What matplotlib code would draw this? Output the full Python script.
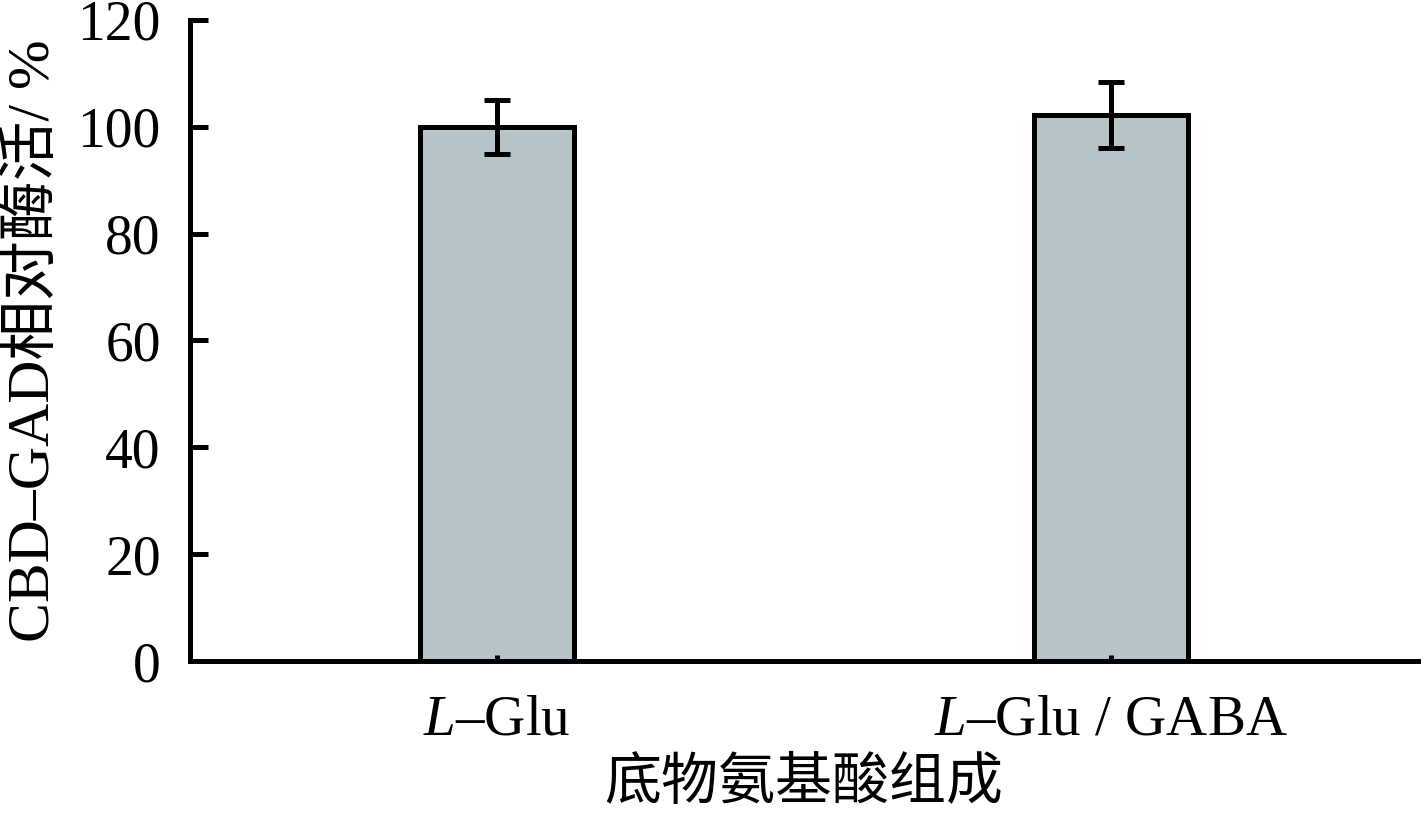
import matplotlib
matplotlib.use("Agg")
import matplotlib.pyplot as plt
import numpy as np

categories = [r"$L$–Glu", r"$L$–Glu / GABA"]
activity = [100.0, 102.2]
errors = [5.1, 6.2]
yticks = [0, 20, 40, 60, 80, 100, 120]

plt.rcParams["mathtext.fontset"] = "custom"
plt.rcParams["mathtext.rm"] = "Liberation Serif"
plt.rcParams["mathtext.it"] = "Liberation Serif:italic"
plt.rcParams["font.family"] = ["Liberation Serif", "Noto Sans CJK SC"]

fig = plt.figure(figsize=(14.22, 8.19), dpi=100)
ax = fig.add_axes([0.1336, 0.1929, 0.8636, 0.7827])

x = np.arange(len(categories))
ax.bar(x, activity, width=0.25, color="#b7c4c7", edgecolor="black", linewidth=3.6,
       yerr=errors, capsize=9.5, error_kw={"elinewidth": 3.6, "capthick": 3.6, "ecolor": "black"})

ax.set_xlim(-0.5, 1.5)
ax.set_ylim(0, 120)
ax.set_yticks(yticks)
ax.set_xticks(x)
ax.set_xticklabels(categories)

for s in ["top", "right"]:
    ax.spines[s].set_visible(False)
for s in ["left", "bottom"]:
    ax.spines[s].set_linewidth(3.6)

ax.tick_params(axis="y", direction="in", length=13, width=3.6, pad=21, labelsize=40)
ax.tick_params(axis="x", direction="in", length=4.5, width=3.6, pad=24, labelsize=41)

ax.set_ylabel("CBD–GAD相对酶活/ %", fontsize=43, labelpad=11)
ax.set_xlabel("底物氨基酸组成", fontsize=41, labelpad=5,
              family=["Noto Sans CJK SC"])

fig.savefig("out.png", dpi=100)
